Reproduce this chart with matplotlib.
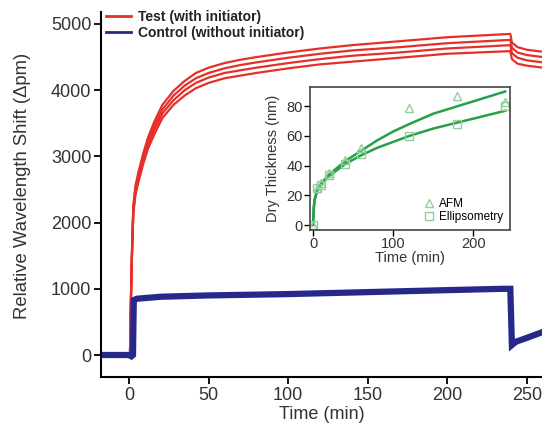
import numpy as np
import matplotlib
matplotlib.use("Agg")
import matplotlib.pyplot as plt

plt.rcParams['font.family'] = ['Liberation Sans', 'DejaVu Sans']

# main panel: test runs (4 sensors) and control
t_test = [-18, 0, 0.6, 1.0, 1.5, 2, 2.7, 4, 6, 9, 12, 16, 21, 28, 35, 42, 50,
          60, 70, 80, 100, 120, 140, 170, 200, 239.5, 240.5, 244, 250, 260]
test_1 = [0, 0, 0, 600, 1200, 1700, 2250, 2550, 2770, 3050, 3290, 3530, 3780,
          3990, 4140, 4260, 4340, 4410, 4460, 4500, 4570, 4630, 4680, 4740,
          4800, 4850, 4720, 4650, 4610, 4580]
test_2 = [0, 0, 0, 590, 1180, 1670, 2210, 2500, 2720, 3000, 3230, 3470, 3710,
          3920, 4070, 4180, 4260, 4330, 4380, 4420, 4490, 4550, 4600, 4650,
          4710, 4760, 4640, 4570, 4530, 4500]
test_3 = [0, 0, 0, 580, 1160, 1640, 2170, 2460, 2670, 2940, 3170, 3410, 3650,
          3850, 4000, 4110, 4190, 4260, 4300, 4340, 4410, 4470, 4520, 4570,
          4630, 4680, 4560, 4490, 4450, 4420]
test_4 = [0, 0, 0, 570, 1140, 1610, 2130, 2410, 2620, 2890, 3120, 3340, 3580,
          3780, 3920, 4030, 4110, 4180, 4220, 4260, 4330, 4390, 4430, 4490,
          4550, 4590, 4470, 4400, 4370, 4340]

t_ctrl = [-18, 0, 1.5, 2.5, 3, 5, 20, 50, 100, 150, 200, 235, 239.5, 240.5,
          243, 250, 259, 260]
ctrl = [0, 0, -20, 0, 830, 850, 880, 900, 920, 950, 980, 1000, 1000, 150,
        200, 260, 340, 350]

# inset: dry thickness
t_meas = [0, 5, 10, 20, 40, 60, 120, 180, 240]
afm = [0, 25, 28, 35, 44, 52, 79, 87, 83]
ellips = [0, 25, 27, 34, 41, 48, 60, 68, 80]
t_fit = [0, 1, 2, 5, 10, 20, 40, 60, 80, 100, 120, 150, 180, 210, 240]
fit_afm = [0, 12, 17, 23, 28, 34, 43, 50, 57, 63, 68, 75, 80, 85, 90]
fit_ell = [0, 12, 17, 23, 27, 33, 41, 47, 52, 56, 60, 65, 69, 73, 77]

red = '#e5302a'
blue = '#27288c'
green = '#27a04a'
lgreen = '#8fd09a'
tc = '#333333'

fig = plt.figure(figsize=(5.42, 4.3), dpi=100)
ax = fig.add_axes([0.1863, 0.1233, 0.8137, 0.8488])

for y in [test_1, test_2, test_3, test_4]:
    ax.plot(t_test, y, color=red, lw=1.6)
ax.plot(t_ctrl, ctrl, color=blue, lw=4.5, solid_joinstyle='miter')

ax.set_xlim(-17.6, 259.4)
ax.set_ylim(-332, 5181)
ax.set_xticks([0, 50, 100, 150, 200, 250])
ax.set_yticks([0, 1000, 2000, 3000, 4000, 5000])
ax.spines['top'].set_visible(False)
ax.spines['right'].set_visible(False)
for s in ['left', 'bottom']:
    ax.spines[s].set_linewidth(1.5)
ax.tick_params(direction='out', length=5, width=1.3, labelsize=13,
               labelcolor=tc, pad=2)
ax.set_xlabel('Time (min)', fontsize=13, color=tc, labelpad=2)
ax.set_ylabel('Relative Wavelength Shift (\u0394pm)', fontsize=13.3,
              color=tc)
ax.yaxis.set_label_coords(-0.159, 0.523)

h1, = ax.plot([], [], color=red, lw=2, label='Test (with initiator)')
h2, = ax.plot([], [], color=blue, lw=2, label='Control (without initiator)')
leg = ax.legend(handles=[h1, h2], loc='upper left',
                bbox_to_anchor=(106 / 542, 1 - 10 / 430),
                bbox_transform=fig.transFigure, frameon=False,
                borderpad=0, borderaxespad=0, handlelength=1.8,
                handletextpad=0.5, labelspacing=0.15,
                prop={'size': 10, 'weight': 'bold'})
for t in leg.get_texts():
    t.set_color('#222222')

# inset
ins = fig.add_axes([0.572, 0.465, 0.369, 0.3326])
ins.plot(t_fit, fit_afm, color=green, lw=1.8)
ins.plot(t_fit, fit_ell, color=green, lw=1.8)
ins.plot(t_meas, afm, linestyle='none', marker='^', ms=6, mfc='none',
         mec=lgreen, mew=1, label='AFM')
ins.plot(t_meas, ellips, linestyle='none', marker='s', ms=6, mfc='none',
         mec=lgreen, mew=1, label='Ellipsometry')
ins.set_xlim(-3.75, 246)
ins.set_ylim(-3.4, 93)
ins.set_xticks([0, 100, 200])
ins.set_yticks([0, 20, 40, 60, 80])
for s in ins.spines.values():
    s.set_linewidth(1.2)
    s.set_color('#444444')
ins.tick_params(direction='out', length=4, width=1, labelsize=10.5,
                labelcolor=tc, pad=1)
ins.set_xlabel('Time (min)', fontsize=10.5, color=tc, labelpad=0)
ins.set_ylabel('Dry Thickness (nm)', fontsize=10.5, color=tc, labelpad=5)
ins.legend(loc='lower right', frameon=False, fontsize=8.5, handlelength=1,
           handletextpad=0.3, labelspacing=0.1, borderaxespad=0.2)

fig.savefig('out.png', dpi=100)
